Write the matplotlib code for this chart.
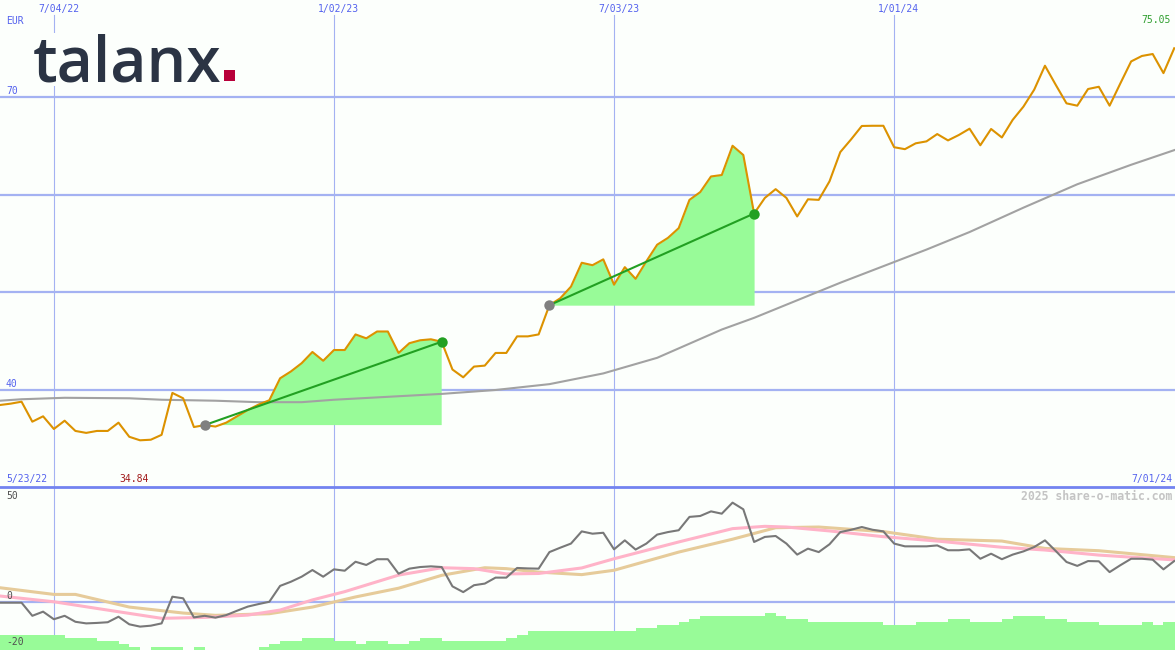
import numpy as np
import matplotlib
matplotlib.use("Agg")
from matplotlib import pyplot as plt
from matplotlib import transforms
from matplotlib.patches import Rectangle

W, H = 1175, 650
BG = '#fcfffc'
GRID = '#a4b2f2'
BLUE_TXT = '#5462ee'

# weekly closes 5/23/22 .. 7/01/24 (EUR)
dates = np.arange('2022-05-23', '2024-07-08', 7, dtype='datetime64[D]')
price = [38.2, 38.46, 38.6, 38.8, 36.75, 37.3, 36.0, 36.85, 35.8, 35.6,
         35.8, 35.8, 36.65, 35.2, 34.84, 34.9, 35.4, 39.7, 39.15, 36.2,
         36.4, 36.25, 36.65, 37.3, 37.95, 38.5, 38.95, 41.2, 41.9, 42.75,
         43.9, 43.0, 44.1, 44.1, 45.7, 45.3, 46.0, 46.0, 43.8, 44.8,
         45.1, 45.2, 44.95, 42.1, 41.3, 42.4, 42.5, 43.8, 43.8, 45.5,
         45.5, 45.7, 48.7, 49.4, 50.6, 53.05, 52.8, 53.4, 50.8, 52.6,
         51.4, 53.2, 54.9, 55.6, 56.6, 59.5, 60.3, 61.9, 62.05, 65.05,
         64.1, 58.1, 59.7, 60.6, 59.7, 57.8, 59.56, 59.5, 61.4, 64.4,
         65.7, 67.08, 67.1, 67.1, 64.9, 64.7, 65.3, 65.5, 66.25, 65.6,
         66.15, 66.8, 65.1, 66.77, 65.9, 67.7, 69.06, 70.8, 73.26, 71.3,
         69.4, 69.16, 70.87, 71.1, 69.16, 71.45, 73.7, 74.26, 74.46, 72.5,
         75.05]

# long moving average, read at a few weeks (index into dates)
ma_idx = [0, 1, 3, 7, 13, 16, 21, 25, 29, 32, 37, 42, 47, 52, 57, 62, 68, 71,
          75, 79, 83, 87, 91, 96, 101, 106, 110]
ma_val = [38.85, 38.9, 39.05, 39.2, 39.15, 39.0, 38.9, 38.75, 38.75, 39.0,
          39.3, 39.6, 40.0, 40.6, 41.7, 43.3, 46.2, 47.4, 49.2, 51.0, 52.7,
          54.4, 56.2, 58.7, 61.1, 63.1, 64.6]

# trend segments (start idx, end idx)
trends = [(20, 42), (52, 71)]

# lower panel: momentum (%), two smoothings, histogram
mom = [-0.3, -0.3, -0.3, -0.3, -6.0, -4.2, -7.5, -6.0, -8.6, -9.3,
       -9.1, -8.8, -6.4, -9.7, -10.7, -10.3, -9.3, 2.3, 1.6, -6.7,
       -6.0, -6.8, -5.7, -3.8, -2.0, -0.9, 0.1, 7.0, 8.8, 11.0,
       13.9, 11.0, 14.2, 13.6, 17.5, 16.1, 18.6, 18.6, 12.3, 14.5,
       15.2, 15.5, 15.2, 6.8, 4.3, 7.3, 8.0, 10.6, 10.6, 14.8,
       14.6, 14.5, 21.7, 23.6, 25.4, 30.7, 29.7, 30.1, 22.9, 26.8,
       22.8, 25.4, 29.3, 30.4, 31.2, 37.0, 37.4, 39.4, 38.4, 43.2,
       40.3, 26.1, 28.3, 28.7, 25.4, 20.6, 23.2, 21.7, 25.1, 30.4,
       31.4, 32.6, 31.4, 30.7, 25.4, 24.2, 24.2, 24.2, 24.6, 22.5,
       22.5, 22.9, 18.8, 21.0, 18.6, 20.6, 22.0, 23.9, 26.8, 22.2,
       17.4, 15.7, 17.8, 17.7, 13.0, 16.0, 18.8, 18.8, 18.4, 14.2,
       17.8]

pink_idx = [0, 1, 6, 10, 16, 20, 24, 27, 30, 33, 38, 42, 45, 48, 51, 55, 58,
            64, 69, 72, 74, 78, 83, 88, 94, 98, 103, 110]
pink_val = [2.8, 2.6, 0.1, -2.8, -7.1, -6.7, -5.7, -3.5, 0.9, 4.5, 11.7, 14.9,
            14.5, 12.2, 12.4, 14.8, 18.8, 26.1, 31.9, 32.9, 32.6, 30.9, 28.4,
            26.5, 23.8, 22.6, 20.4, 18.3]

tan_idx = [0, 1, 6, 8, 13, 18, 21, 26, 30, 34, 38, 42, 46, 48, 51, 55, 58,
           64, 69, 73, 77, 83, 88, 94, 98, 103, 110]
tan_val = [6.5, 6.2, 3.3, 3.3, -2.2, -4.8, -5.8, -5.1, -2.2, 2.2, 6.0, 11.6,
           14.9, 14.5, 13.0, 11.9, 13.8, 21.7, 27.3, 32.3, 32.6, 30.6, 27.3,
           26.5, 23.3, 22.3, 19.3]

nan = np.nan
bar_top = [-14.2, -14.2, -14.2, -14.2, -14.2, -14.2, -14.2, -15.65, -15.65, -15.65,
           -17.0, -17.0, -18.1, -19.6, nan, -19.6, -19.6, -19.6, nan, -19.6,
           nan, nan, nan, nan, nan, -19.6, -18.1, -17.0, -17.0, -15.65,
           -15.65, -15.65, -17.0, -17.0, -18.1, -17.0, -17.0, -18.1, -18.1, -17.0,
           -15.65, -15.65, -17.0, -17.0, -17.0, -17.0, -17.0, -17.0, -15.65, -14.2,
           -12.6, -12.6, -12.6, -12.6, -12.6, -12.6, -12.6, -12.6, -12.6, -12.6,
           -11.3, -11.3, -9.9, -9.9, -8.7, -7.5, -6.1, -6.1, -6.1, -6.1,
           -6.1, -6.1, -4.8, -6.1, -7.5, -7.5, -8.7, -8.7, -8.7, -8.7,
           -8.7, -8.7, -8.7, -9.9, -9.9, -9.9, -8.7, -8.7, -8.7, -7.5,
           -7.5, -8.7, -8.7, -8.7, -7.5, -6.1, -6.1, -6.1, -7.5, -7.5,
           -8.7, -8.7, -8.7, -9.9, -9.9, -9.9, -9.9, -8.7, -9.9, -8.7,
           -8.7]

grid_dates = np.array(['2022-07-04', '2023-01-02', '2023-07-03', '2024-01-01'],
                      dtype='datetime64[D]')
grid_labels = ['7/04/22', '1/02/23', '7/03/23', '1/01/24']

price = np.array(price)
xl = (np.datetime64('2022-05-30T00:00'), np.datetime64('2024-07-01T12:00'))

fig = plt.figure(figsize=(W / 100, H / 100), dpi=100, facecolor=BG)
split = 163 / H
ax = fig.add_axes([0, split, 1, 1 - split])
ax2 = fig.add_axes([0, 0, 1, split])
for a in (ax, ax2):
    a.set_facecolor(BG)
    a.set_axis_off()
    a.set_xlim(xl)

# ---- upper panel ----
ax.set_ylim(30.05, 80)
for v in (40, 50, 60, 70):
    ax.axhline(v, color=GRID, lw=1.6, zorder=0)
for d in grid_dates:
    ax.axvline(d, ymin=0, ymax=1 - 15 / 487, color=GRID, lw=0.8, zorder=0)

for i0, i1 in trends:
    base = price[i0]
    seg = price[i0:i1 + 1]
    ax.fill_between(dates[i0:i1 + 1], base, seg, where=seg >= base,
                    interpolate=True, color='#98fb98', lw=0, zorder=1)

ax.plot(dates[ma_idx], ma_val, color='#a2a2a2', lw=1.5, zorder=2)
ax.plot(dates, price, color='#dc9200', lw=1.5, zorder=3)

for i0, i1 in trends:
    ax.plot([dates[i0], dates[i1]], [price[i0], price[i1]], color='#22a022',
            lw=1.5, zorder=4)
    ax.plot(dates[i0], price[i0], 'o', ms=7.5, color='#808080', mec='none', zorder=5)
    ax.plot(dates[i1], price[i1], 'o', ms=7.5, color='#22a022', mec='none', zorder=5)

tr = transforms.blended_transform_factory(ax.transData, ax.transAxes)
for d, lab in zip(grid_dates, grid_labels):
    ax.text(d + np.timedelta64(3, 'D'), 1 - 9 / 487, lab, transform=tr,
            ha='center', va='center', color=BLUE_TXT, family='DejaVu Sans Mono',
            fontsize=7)

# ---- lower panel ----
ax2.set_ylim(-20.87, 50)
ax2.axhline(0, color=GRID, lw=1.6, zorder=0)
for d in grid_dates:
    ax2.axvline(d, color=GRID, lw=0.8, zorder=0)
floor = -21
ax2.bar(dates, np.array(bar_top) - floor, bottom=floor, width=7, align='edge',
        color='#98fb98', lw=0, zorder=1)
ax2.plot(dates[tan_idx], tan_val, color='#e6cb9a', lw=2.2, zorder=2)
ax2.plot(dates[pink_idx], pink_val, color='#ffb3c8', lw=2.2, zorder=3)
ax2.plot(dates, mom, color='#787878', lw=1.5, zorder=4)


def px(x, y):
    return x / W, 1 - y / H


# panel separator
fig.add_artist(plt.Line2D([0, 1], [1 - 487 / H] * 2, color='#7383f0', lw=2,
                          transform=fig.transFigure))

# logo
fig.add_artist(Rectangle(px(30, 86), 212 / W, 53 / H, transform=fig.transFigure,
                         facecolor=BG, edgecolor='none', zorder=5))
fig.text(*px(33, 82), 'talanx', ha='left', va='baseline', color='#2b3444',
         family='Open Sans', fontweight='semibold', fontsize=45, zorder=6)
fig.add_artist(Rectangle(px(224, 81), 11 / W, 11 / H, transform=fig.transFigure,
                         facecolor='#b8003a', edgecolor='none', zorder=6))

mono = dict(family='DejaVu Sans Mono', fontsize=7)
fig.text(*px(6, 21), 'EUR', va='center', color=BLUE_TXT, **mono)
fig.text(*px(6, 91), '70', va='center', color=BLUE_TXT, **mono)
fig.text(*px(6, 384), '40', va='center', color=BLUE_TXT, **mono)
fig.text(*px(1171, 20), '75.05', ha='right', va='center', color='#2e9e2e', **mono)
fig.text(*px(6, 479), '5/23/22', va='center', color=BLUE_TXT, **mono)
fig.text(*px(134, 479), '34.84', ha='center', va='center', color='#a01818', **mono)
fig.text(*px(1172, 479), '7/01/24', ha='right', va='center', color=BLUE_TXT, **mono)
fig.text(*px(1172, 496), '2025 share-o-matic.com', ha='right', va='center',
         color='#c4c4c4', family='DejaVu Sans Mono', fontweight='bold', fontsize=8.3)
fig.text(*px(6, 496), '50', va='center', color='#505050', **mono)
fig.text(*px(6, 596), '0', va='center', color='#505050', **mono)
fig.text(*px(6, 642), '-20', va='center', color='#505050', **mono)

fig.savefig('out.png', dpi=100, facecolor=BG)
